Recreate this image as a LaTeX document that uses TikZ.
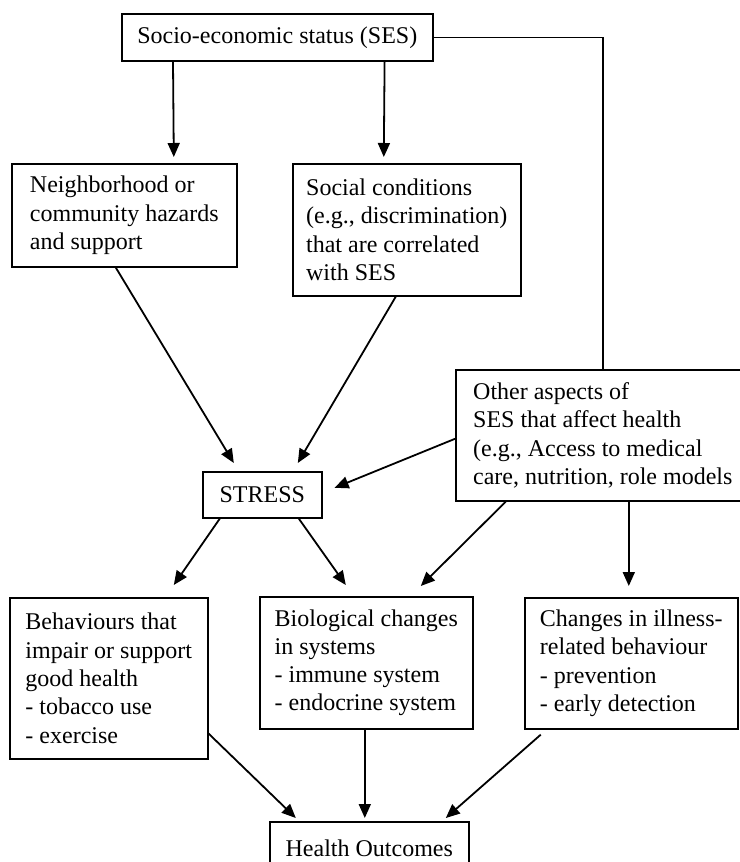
\documentclass[tikz,border=0pt]{standalone}
\usepackage{fontspec}
\setmainfont{Liberation Serif}
\usetikzlibrary{arrows.meta,positioning,calc}

\begin{document}
\begin{tikzpicture}[x=1pt,y=-1pt,>={Triangle[length=14pt,width=12pt]},
 font=\fontsize{24}{28.3}\selectfont,
 box/.style={draw,line width=1.6pt,anchor=north west,inner sep=0pt,align=left},
 line/.style={line width=1.6pt},arr/.style={->,line width=1.8pt}]
\useasboundingbox (0,0) rectangle (739,862);
% boxes
\node[box,align=center,minimum width=311pt,minimum height=47pt] (ses) at (121,13) {Socio-economic status (SES)};
\node[box,minimum width=225pt,minimum height=103pt] (nbh) at (11,163) {Neighborhood or\\community hazards\\and support};
\node[box,minimum width=228pt,minimum height=132pt] (soc) at (292,163) {Social conditions\\(e.g., discrimination)\\that are correlated\\with SES};
\node[box,minimum width=294pt,minimum height=131pt] (other) at (455,369) {Other aspects of\\SES that affect health\\(e.g., Access to medical\\care, nutrition, role models};
\node[box,align=center,minimum width=119pt,minimum height=46pt] (stress) at (202,471) {STRESS};
\node[box,minimum width=198pt,minimum height=161pt] (beh) at (9,597) {Behaviours that\\impair or support\\good health\\- tobacco use\\- exercise};
\node[box,minimum width=213pt,minimum height=132pt] (bio) at (259,596) {Biological changes\\in systems\\- immune system\\- endocrine system};
\node[box,minimum width=213pt,minimum height=131pt] (chg) at (524,597) {Changes in illness-\\related behaviour\\- prevention\\- early detection};
\node[box,align=center,minimum width=199pt,minimum height=52pt] (health) at (269,821) {Health Outcomes};
% SES to the level below
\draw[arr] ([xshift=52pt]ses.south west) -- ([xshift=49.5pt,yshift=6pt]nbh.north);
\draw[arr] ([xshift=-49pt]ses.south east) -- ([xshift=-23pt,yshift=6pt]soc.north);
\draw[line] (ses.east) -| (other.north);
% into STRESS
\draw[arr] ([xshift=-8.5pt]nbh.south) -- ([xshift=-28.5pt,yshift=8pt]stress.north);
\draw[arr] ([xshift=-11pt]soc.south) -- ([xshift=35.5pt,yshift=8pt]stress.north);
\draw[arr] ([yshift=-3.5pt]other.west) -- ([xshift=12pt,yshift=7pt]stress.east);
% out of STRESS and other aspects
\draw[arr] ([xshift=-42.5pt]stress.south) -- ([xshift=65pt,yshift=12pt]beh.north);
\draw[arr] ([xshift=36.5pt]stress.south) -- ([xshift=-20.5pt,yshift=11pt]bio.north);
\draw[arr] ([xshift=-97pt]other.south) -- ([xshift=54.5pt,yshift=10pt]bio.north);
\draw[arr] ([xshift=26pt]other.south) -- ([xshift=-2.5pt,yshift=11pt]chg.north);
% to outcomes
\draw[arr] ([yshift=26pt]beh.south east) -- ([xshift=-73.5pt,yshift=3pt]health.north);
\draw[arr] ([xshift=-1.5pt]bio.south) -- ([xshift=-4.5pt,yshift=3pt]health.north);
\draw[arr] ([xshift=-90.5pt,yshift=-5pt]chg.south) -- ([xshift=76.5pt,yshift=3pt]health.north);
\end{tikzpicture}
\end{document}
